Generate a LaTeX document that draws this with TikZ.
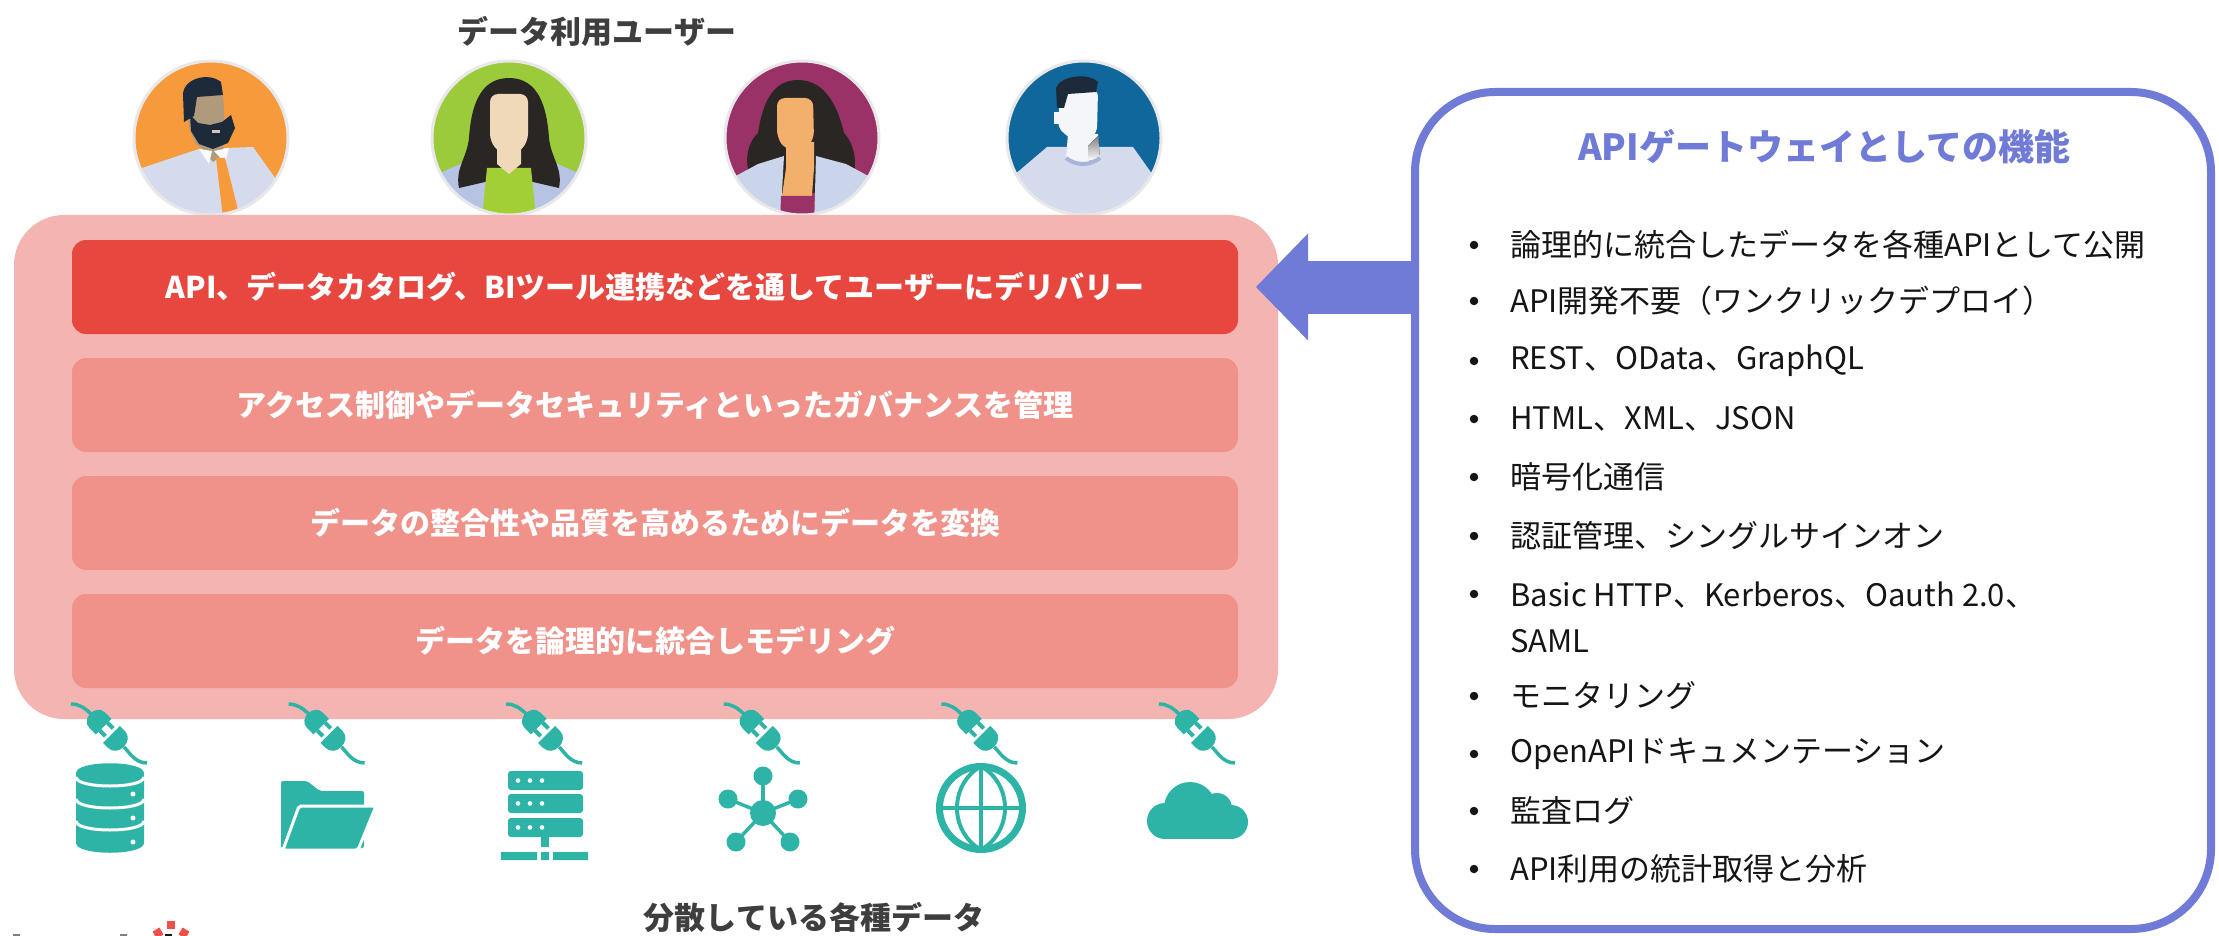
\documentclass[tikz,border=0pt]{standalone}
\usepackage{fontspec}
\setmainfont{Noto Sans CJK JP}
\usepackage{tikz}
\usetikzlibrary{positioning,arrows.meta}

\definecolor{tealicon}{HTML}{2EB4A6}
\definecolor{gateblue}{HTML}{6F7BD6}
\definecolor{basepink}{HTML}{F4B5B2}
\definecolor{layerred}{HTML}{E8473F}
\definecolor{layerpink}{HTML}{F0918A}
\definecolor{headgray}{HTML}{3E3E3E}
\definecolor{featblack}{HTML}{151515}
\definecolor{logored}{HTML}{EF5049}
\definecolor{rimgray}{HTML}{E8E8EA}
\definecolor{avorange}{HTML}{F79A3C}
\definecolor{avgreen}{HTML}{9BCB3B}
\definecolor{avmagenta}{HTML}{9A3167}
\definecolor{avblue}{HTML}{0F679C}
\definecolor{shirtblue}{HTML}{D3DBEC}
\definecolor{skintan}{HTML}{B09A7C}
\definecolor{navyhair}{HTML}{1D2A3A}
\definecolor{hairdark}{HTML}{2A2624}
\definecolor{skinlight}{HTML}{EFD9B8}
\definecolor{jacketblue}{HTML}{B6C3E3}
\definecolor{skinorange}{HTML}{F3B06C}
\definecolor{jacketlight}{HTML}{CAD4EA}
\definecolor{facewhite}{HTML}{F4F6FA}
\definecolor{shade}{HTML}{C8D1E8}
\definecolor{collarblue}{HTML}{A8B4DA}

\tikzset{
  layer/.style={fill=layerpink, rounded corners=14, minimum width=1166, minimum height=94, inner sep=0, outer sep=0, text=white, font=\fontsize{30}{36}\selectfont\bfseries},
  heading/.style={text=headgray, inner sep=0, font=\fontsize{31}{37}\selectfont\bfseries},
  dot/.style={circle, fill=featblack, inner sep=0, minimum size=8.5},
  feature/.style={anchor=west, inner sep=0, align=left, text=featblack, font=\fontsize{31}{46}\selectfont},
  cord/.style={tealicon, line width=3.5},
}

\begin{document}
\begin{tikzpicture}[x=1pt,y=-1pt]
\useasboundingbox (0,0) rectangle (2219,936);

\node[heading] (users) at (597,31) {データ利用ユーザー};

% bearded man
\begin{scope}[shift={(211,138)}]
\clip (0,0) circle (77);
\fill[avorange] (0,0) circle (77);
\fill[shirtblue] (-90,42) -- (-69,30) -- (-12,11) -- (42,9) -- (67,44) -- (90,60) -- (90,90) -- (-90,90) -- cycle;
\fill[skintan] (-9,-4) -- (11,-4) -- (13,16) -- (2,24) -- (-9,12) -- cycle;
\fill[white!90!shirtblue] (-12,11) -- (1,13) -- (-2,26) -- cycle (3,13) -- (18,10) -- (14,25) -- cycle;
\fill[avorange] (5,20) -- (14,20) -- (29,80) -- (12,80) -- cycle;
\fill[skintan, rounded corners=7] (-22,-46) -- (12,-46) -- (14,-6) -- (10,10) -- (-14,10) -- (-23,-14) -- cycle;
\fill[navyhair] (-27,-16) -- (-28,-44) .. controls (-27,-60) and (-2,-66) .. (10,-56) -- (12,-43) -- (-14,-41) -- (-17,-22) -- cycle;
\fill[navyhair] (-21,-23) -- (-13,-15) -- (-1,-13) -- (11,-16) -- (20,-23) -- (24,-10) -- (17,5) -- (2,11) -- (-12,6) -- (-20,-7) -- cycle;
\fill[skintan!55!white] (1,-8) rectangle (9,-5);
\end{scope}
\draw[rimgray, line width=3] (211,138) circle (77);

% woman, green
\begin{scope}[shift={(509,138)}]
\clip (0,0) circle (77);
\fill[avgreen] (0,0) circle (77);
\fill[jacketblue] (-80,40) -- (-40,22) -- (40,22) -- (80,40) -- (80,90) -- (-80,90) -- cycle;
\fill[hairdark] (0,-60) .. controls (-30,-60) and (-38,-30) .. (-40,0) .. controls (-42,20) and (-54,30) .. (-50,50) -- (-24,44) -- (24,44) -- (50,50) .. controls (54,30) and (42,20) .. (40,0) .. controls (38,-30) and (30,-60) .. (0,-60) -- cycle;
\fill[avgreen!92!yellow] (-22,30) -- (22,30) -- (28,90) -- (-28,90) -- cycle;
\fill[skinlight] (-12,0) -- (12,0) -- (12,26) -- (0,36) -- (-12,26) -- cycle;
\fill[skinlight, rounded corners=8] (-19,-44) -- (19,-44) -- (19,4) -- (8,16) -- (-8,16) -- (-19,4) -- cycle;
\end{scope}
\draw[rimgray, line width=3] (509,138) circle (77);

% woman, magenta
\begin{scope}[shift={(802,138)}]
\clip (0,0) circle (77);
\fill[avmagenta] (0,0) circle (77);
\fill[hairdark] (-4,-58) .. controls (-32,-58) and (-40,-30) .. (-44,-5) .. controls (-60,10) and (-58,40) .. (-40,55) -- (40,55) .. controls (58,40) and (56,10) .. (42,-5) .. controls (36,-30) and (24,-58) .. (-4,-58) -- cycle;
\fill[jacketlight] (-70,40) -- (-44,26) -- (-18,18) -- (-22,90) -- (-70,90) -- cycle;
\fill[jacketlight] (70,40) -- (44,26) -- (14,18) -- (12,90) -- (70,90) -- cycle;
\fill[skinorange] (-16,4) -- (12,4) -- (12,30) -- (10,58) -- (-20,58) -- (-16,30) -- cycle;
\fill[skinorange, rounded corners=8] (-25,-40) -- (11,-40) -- (12,2) -- (2,12) -- (-16,12) -- (-25,0) -- cycle;
\fill[avmagenta] (-21,58) -- (11,58) -- (12,90) -- (-22,90) -- cycle;
\end{scope}
\draw[rimgray, line width=3] (802,138) circle (77);

% man, blue
\begin{scope}[shift={(1084,138)}]
\clip (0,0) circle (77);
\fill[avblue] (0,0) circle (77);
\fill[shirtblue] (-80,45) -- (-64,32) -- (-37,9) -- (49,9) -- (71,40) -- (90,55) -- (90,90) -- (-90,90) -- cycle;
\fill[facewhite] (-16,-4) -- (14,-4) -- (16,20) .. controls (6,26) and (-8,26) .. (-18,20) -- cycle;
\fill[shade] (4,8) -- (14,-2) -- (16,20) -- (4,23) -- cycle;
\draw[collarblue, line width=4] (-18,20) .. controls (-8,28) and (6,28) .. (16,20);
\fill[facewhite, rounded corners=6] (-24,-48) -- (14,-48) -- (13,-6) -- (6,2) -- (-12,2) -- (-26,-10) -- cycle;
\fill[facewhite] (-30,-26) rectangle (-22,-14);
\fill[navyhair] (-27,-30) -- (-28,-50) .. controls (-24,-62) and (4,-66) .. (14,-56) -- (12,-46) -- (-16,-44) -- (-20,-30) -- cycle;
\end{scope}
\draw[rimgray, line width=3] (1084,138) circle (77);

\node[fill=basepink, rounded corners=50, minimum width=1264, minimum height=504, inner sep=0, outer sep=0] (platform) at (646,467) {};
\node[layer, fill=layerred] (deliver) at (655,287) {API、データカタログ、BIツール連携などを通してユーザーにデリバリー};
\node[layer, below=24pt of deliver] (govern) {アクセス制御やデータセキュリティといったガバナンスを管理};
\node[layer, below=24pt of govern] (transform) {データの整合性や品質を高めるためにデータを変換};
\node[layer, below=24pt of transform] (model) {データを論理的に統合しモデリング};

\foreach \x in {110,327.6,545.2,762.8,980.4,1198} {
  \begin{scope}[shift={(\x,733)}]
    \draw[cord] (-39,-29) .. controls (-31,-29) and (-25,-25) .. (-19,-19);
    \draw[cord] (14,14) .. controls (19,19) and (25,30) .. (37,30);
    \begin{scope}[rotate=-45]
      \fill[tealicon] (-9,-11) -- (-18,-11) .. controls (-31,-11) and (-31,11) .. (-18,11) -- (-9,11) -- cycle;
      \fill[tealicon] (-9,-7.5) rectangle (-1,-3.5) (-9,3.5) rectangle (-1,7.5);
      \fill[tealicon] (2,-12) -- (9,-12) .. controls (23,-12) and (23,12) .. (9,12) -- (2,12) -- cycle;
    \end{scope}
  \end{scope}
}

% database
\fill[tealicon] (76,773) -- (76,843) .. controls (76,856) and (144,856) .. (144,843) -- (144,773) .. controls (144,760) and (76,760) .. (76,773) -- cycle;
\foreach \s in {777,799,821} \draw[white, line width=3] (76,\s) .. controls (76,\s+12) and (144,\s+12) .. (144,\s);
\foreach \s in {794,818,842} \fill[white] (133,\s) circle (2.5);

% folder
\fill[tealicon, rounded corners=2] (281,848) -- (281,781) -- (307,781) -- (320,791) -- (364,791) -- (364,848) -- cycle;
\filldraw[tealicon, draw=white, line width=3, rounded corners=2] (299,806) -- (376,806) -- (358,850) -- (283,850) -- cycle;

% server
\foreach \s in {771,794,818} {
  \fill[tealicon, rounded corners=3] (508,\s) rectangle (583,\s+19);
  \foreach \d in {518,530,542} \fill[white] (\d,\s+9.5) circle (2.3);
}
\fill[tealicon] (541,837) rectangle (549,847);
\fill[tealicon] (501,852) rectangle (537,860) (541,852) rectangle (549,860) (553,852) rectangle (588,860);

% network
\foreach \p in {(763,776),(728,799),(798,799),(736,842),(790,842)} {
  \draw[tealicon, line width=3.5] (763,813) -- \p;
  \fill[tealicon] \p circle (9.5);
}
\fill[tealicon] (763,813) circle (13);

% globe
\draw[tealicon, line width=7] (981,808) circle (41.5);
\draw[tealicon, line width=4] (981,766) -- (981,850) (939,808) -- (1023,808);
\draw[tealicon, line width=4] (981,766) .. controls (949,785) and (949,831) .. (981,850) (981,766) .. controls (1013,785) and (1013,831) .. (981,850);

% cloud
\fill[tealicon] (1165,821) circle (18) (1190,808) circle (26) (1217,808) circle (15) (1231,822) circle (17);
\fill[tealicon] (1165,815) rectangle (1231,839);

\node[heading] (sources) at (814,917) {分散している各種データ};

% logo
\fill[logored] (167,921) rectangle (175,929);
\fill[logored, rotate around={30:(158,933)}] (154,929) rectangle (162,937);
\fill[logored, rotate around={-30:(184,933)}] (180,929) rectangle (188,937);
\fill[gray] (13,934) rectangle (20,936) (120,934) rectangle (127,936);
\fill[featblack] (165,934) rectangle (172,936);

\node[draw=gateblue, line width=8, rounded corners=80, minimum width=796, minimum height=837, inner sep=0, outer sep=0] (panel) at (1813,510.5) {};
\node[text=gateblue, font=\fontsize{36}{42}\selectfont\bfseries] (gatetitle) at (1824,147) {APIゲートウェイとしての機能};

\coordinate (tip) at (1256,287);
\draw[gateblue, line width=53, -{Triangle[length=52pt,width=107pt,line width=0pt]}] (panel.west |- tip) -- (tip);

\foreach \by/\ty/\txt [count=\i] in {245/245/論理的に統合したデータを各種APIとして公開, 301/301/API開発不要（ワンクリックデプロイ）, 361/361/REST、OData、GraphQL, 419/419/HTML、XML、JSON, 477/477/暗号化通信, 536/536/認証管理、シングルサインオン, 594/617/{Basic HTTP、Kerberos、Oauth 2.0、\\SAML}, 696/696/モニタリング, 754/754/OpenAPIドキュメンテーション, 811/811/監査ログ, 869/869/API利用の統計取得と分析} {
  \node[dot] (dot\i) at (1474,\by) {};
  \node[feature] (feat\i) at (1510,\ty) {\txt};
}
\end{tikzpicture}
\end{document}
